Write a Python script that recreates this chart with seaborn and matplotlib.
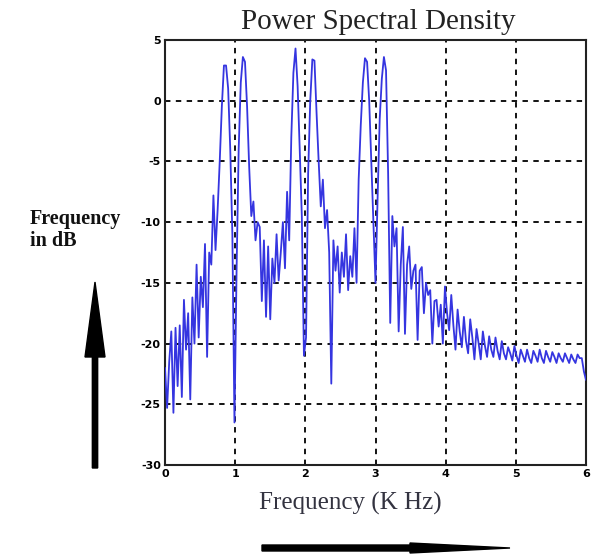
import numpy as np
import pandas as pd
import matplotlib
matplotlib.use("Agg")
import matplotlib.pyplot as plt
import seaborn as sns
from matplotlib.patches import FancyArrow

# ---- data ----
freq_step = 0.03
psd_db = [
    -22, -25.3, -21.5, -19, -25.7, -18.7, -23.5, -18.5, -24.4, -16.4,
    -20.5, -17.5, -24.6, -16.2, -20, -13.5, -19.5, -14.5, -17, -11.8,
    -21.1, -12.5, -13.5, -7.8, -12.3, -9, -5, -0.5, 2.9, 2.9,
    1, -4, -11, -26.5, -14, -4, 1.5, 3.6, 3.2, -0.5,
    -5.5, -9.5, -8.3, -11.5, -10, -10.4, -16.5, -11.5, -17.8, -12,
    -18, -13, -15, -11, -14.8, -12.5, -10, -13.8, -7.5, -11.5,
    -3, 2.3, 4.3, 1.2, -4, -9.5, -21, -19.5, -6, 0,
    3.4, 3.3, -1, -5, -8.7, -6.5, -10.5, -9, -12.5, -23.3,
    -11.5, -14, -12, -15.8, -12.5, -14.5, -11, -15.6, -12.8, -14.5,
    -10.5, -15, -6.5, -2, 1.5, 3.5, 3.2, 0, -5, -10,
    -15, -8, -1.5, 1.8, 3.6, 2.5, -6, -18.3, -9.5, -12,
    -10.5, -19, -13.5, -10.4, -19.2, -13.5, -12, -15.5, -14, -13.5,
    -19.7, -14, -13.7, -17.5, -15, -16, -15.6, -20, -16.5, -16.4,
    -18.6, -16.8, -20, -15.3, -17.5, -18.9, -16, -18.5, -20.5, -17.2,
    -19, -20.3, -17.8, -19.8, -20.8, -18, -19.5, -21.3, -18.8, -20,
    -21.3, -19, -20.2, -21.1, -19.4, -20.5, -21.1, -19.5, -20.6, -21.3,
    -19.8, -20.8, -21.3, -20.3, -20.8, -21.4, -20.2, -21, -21.6, -20.5,
    -21, -21.5, -20.5, -21.2, -21.6, -20.6, -21, -21.5, -20.5, -21.2,
    -21.6, -20.6, -21.1, -21.5, -20.7, -21.1, -21.6, -20.8, -21.2, -21.5,
    -20.8, -21.2, -21.6, -20.9, -21.3, -21.6, -20.9, -21.2, -21.2, -22.3,
    -23,
]
freq_khz = np.round(np.arange(len(psd_db)) * freq_step, 3)
x_ticks = [0, 1, 2, 3, 4, 5, 6]
y_ticks = [5, 0, -5, -10, -15, -20, -25, -30]

df = pd.DataFrame({"freq": freq_khz, "psd": psd_db})

sns.set_theme(style="white")
plt.rcParams["font.family"] = ["DejaVu Sans"]

fig = plt.figure(figsize=(5.92, 5.57), dpi=100)
ax = fig.add_axes([165/592, 1-465/557, 421/592, 425/557])

sns.lineplot(data=df, x="freq", y="psd", ax=ax, color="#3535e0",
             linewidth=1.3, zorder=3)

ax.set_xlim(0, 6)
ax.set_ylim(-30, 5)
ax.set_xticks(x_ticks)
ax.set_yticks(y_ticks)
ax.set_xticklabels([str(t) for t in x_ticks], fontsize=8, fontweight="bold")
ax.set_yticklabels([str(t) for t in y_ticks], fontsize=8, fontweight="bold")
ax.tick_params(axis="both", direction="in", length=3, width=1, pad=3, colors="black")
ax.grid(True, color="black", linestyle=(0, (3, 3)), linewidth=1.3, zorder=1)
for s in ax.spines.values():
    s.set_color("#222222")
    s.set_linewidth(1.5)
ax.set_xlabel("")
ax.set_ylabel("")

fig.text(378/592, 1-22/557, "Power Spectral Density", ha="center", va="center",
         fontsize=21, family="Liberation Serif", color="#222222")
fig.text(350/592, 1-503/557, "Frequency (K Hz)", ha="center", va="center",
         fontsize=18, family="Liberation Serif", color="#333340")
fig.text(30/592, 1-230/557, "Frequency\nin dB", ha="left", va="center",
         fontsize=14.5, family="Liberation Serif", fontweight="bold",
         color="#111111", linespacing=1.15)

# decorative arrows
fig.patches.append(FancyArrow(95/592, 1-468/557, 0, (468-282)/557, width=5/557,
                              head_width=20/592, head_length=75/557,
                              length_includes_head=True, color="black",
                              transform=fig.transFigure, figure=fig))
fig.patches.append(FancyArrow(262/592, 1-548/557, (510-262)/592, 0, width=6/557,
                              head_width=10/557, head_length=100/592,
                              length_includes_head=True, color="black",
                              transform=fig.transFigure, figure=fig))

fig.savefig("out.png", dpi=100)
